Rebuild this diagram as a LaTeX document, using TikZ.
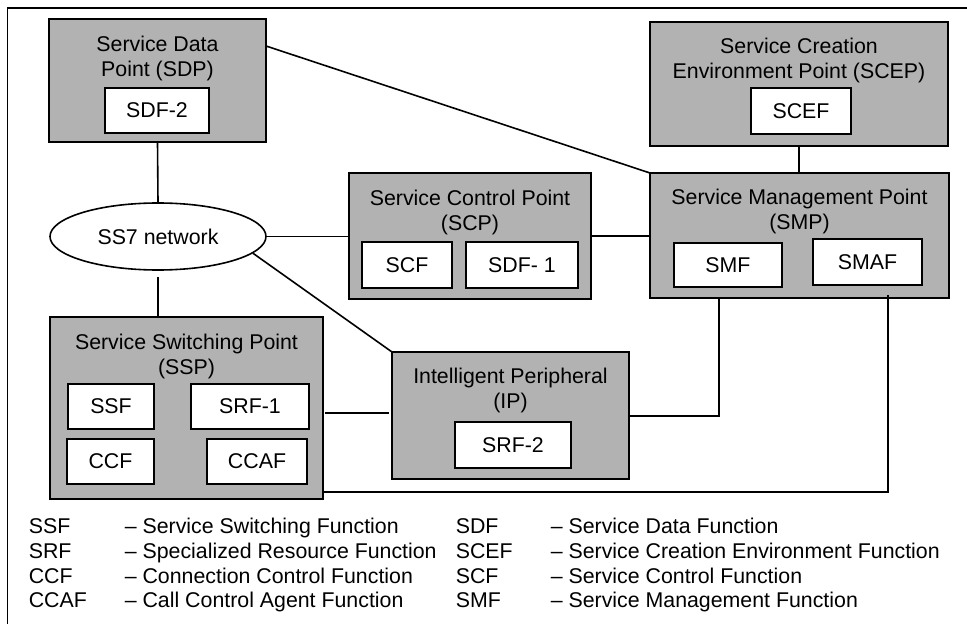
\documentclass[tikz,border=0pt]{standalone}
\usepackage{fontspec}
\setmainfont{Liberation Sans}
\usetikzlibrary{shapes.geometric,fit,calc}
\definecolor{boxgray}{RGB}{178,178,178}
\begin{document}
\begin{tikzpicture}[x=0.75pt,y=-0.75pt,
  font=\fontsize{16}{18.75}\selectfont,
  line width=1.2pt,
  point/.style={draw, fill=boxgray, inner sep=0pt, outer sep=0pt},
  func/.style={draw, fill=white, inner sep=0pt, outer sep=0pt},
  title/.style={anchor=north, inner sep=0pt, align=center},
  legend/.style={anchor=base west, inner sep=0pt}]
\useasboundingbox (0,0) rectangle (967,624);
% outer frame
\draw (7.5,700) -- (7.5,8) -- (1100,8);

% Service Data Point
\node[point, fit={(49,19) (266,142)}] (sdp) {};
\node[title] (sdpt) at (157.5,35) {Service Data\\Point (SDP)};
\node[func, fit={(105,88) (209,133)}] (sdf2) {};
\node (sdf2t) at (sdf2.center) {SDF-2};

% Service Creation Environment Point
\node[point, fit={(650,22) (948,146)}] (scep) {};
\node[title] (scept) at (799,37) {Service Creation\\Environment Point (SCEP)};
\node[func, fit={(751,88) (851,134)}] (scef) {};
\node (sceft) at (scef.center) {SCEF};

% Service Management Point
\node[point, fit={(650,173) (949,298)}] (smp) {};
\node[title] (smpt) at (799.5,188) {Service Management Point\\(SMP)};
\node[func, fit={(674,243) (782,287)}] (smf) {};
\node (smft) at (smf.center) {SMF};
\node[func, fit={(813,239) (922,285)}] (smaf) {};
\node (smaft) at (smaf.center) {SMAF};

% Service Control Point
\node[point, fit={(349,173) (591,299)}] (scp) {};
\node[title] (scpt) at (470,189) {Service Control Point\\(SCP)};
\node[func, fit={(362,242) (452,288)}] (scf) {};
\node (scft) at (scf.center) {SCF};
\node[func, fit={(466,242) (578,288)}] (sdf1) {};
\node (sdf1t) at (sdf1.center) {SDF- 1};

% SS7 network
\node[draw, fill=white, ellipse, inner sep=0pt, minimum width=162pt,
      minimum height=50.25pt] (ss7) at (158,236.5) {SS7 network};

% Service Switching Point
\node[point, fit={(50,317) (323,499)}] (ssp) {};
\node[title] (sspt) at (186.5,333) {Service Switching Point\\(SSP)};
\node[func, fit={(68,384) (154,429)}] (ssf) {};
\node (ssft) at (ssf.center) {SSF};
\node[func, fit={(191,384) (309,429)}] (srf1) {};
\node (srf1t) at (srf1.center) {SRF-1};
\node[func, fit={(67,439) (154,484)}] (ccf) {};
\node (ccft) at (ccf.center) {CCF};
\node[func, fit={(207,439) (307,484)}] (ccaf) {};
\node (ccaft) at (ccaf.center) {CCAF};

% Intelligent Peripheral
\node[point, fit={(392,352) (629,479)}] (ip) {};
\node[title] (ipt) at (510.5,367) {Intelligent Peripheral\\(IP)};
\node[func, fit={(455,422) (571,468)}] (srf2) {};
\node (srf2t) at (srf2.center) {SRF-2};

% connections
\coordinate (bendA) at (719,0);
\coordinate (bendB) at (888,0);
\draw (sdp.south) -- (ss7.north);
\draw ($(ss7.south)+(0,6)$) -- (ss7.south |- ssp.north);
\draw (ss7.east) -- (ss7.east -| scp.west);
\draw (ss7.-10) -- (ip.north west);
\draw ($(sdp.north east)+(0,27)$) -- (smp.north west);
\draw (scep.south) -- (scep.south |- smp.north);
\draw (scp.east) -- (scp.east -| smp.west);
\draw ($(ssp.east |- 0,413)+(2,0)$) -- ($(ip.west |- 0,413)+(-3,0)$);
\draw (ip.east |- 0,416) -| (bendA |- smp.south);
\draw ($(bendB |- smp.south)+(0,-3)$) |- (ssp.east |- 0,492);

% legend
\node[legend] (l1a) at (28,533) {SSF};
\node[legend] (l1b) at (124,533) {– Service Switching Function};
\node[legend] (l2a) at (28,558) {SRF};
\node[legend] (l2b) at (124,558) {– Specialized Resource Function};
\node[legend] (l3a) at (28,583) {CCF};
\node[legend] (l3b) at (124,583) {– Connection Control Function};
\node[legend] (l4a) at (28,607) {CCAF};
\node[legend] (l4b) at (124,607) {– Call Control Agent Function};
\node[legend] (r1a) at (455,533) {SDF};
\node[legend] (r1b) at (550,533) {– Service Data Function};
\node[legend] (r2a) at (455,558) {SCEF};
\node[legend] (r2b) at (550,558) {– Service Creation Environment Function};
\node[legend] (r3a) at (455,583) {SCF};
\node[legend] (r3b) at (550,583) {– Service Control Function};
\node[legend] (r4a) at (455,607) {SMF};
\node[legend] (r4b) at (550,607) {– Service Management Function};
\end{tikzpicture}
\end{document}
